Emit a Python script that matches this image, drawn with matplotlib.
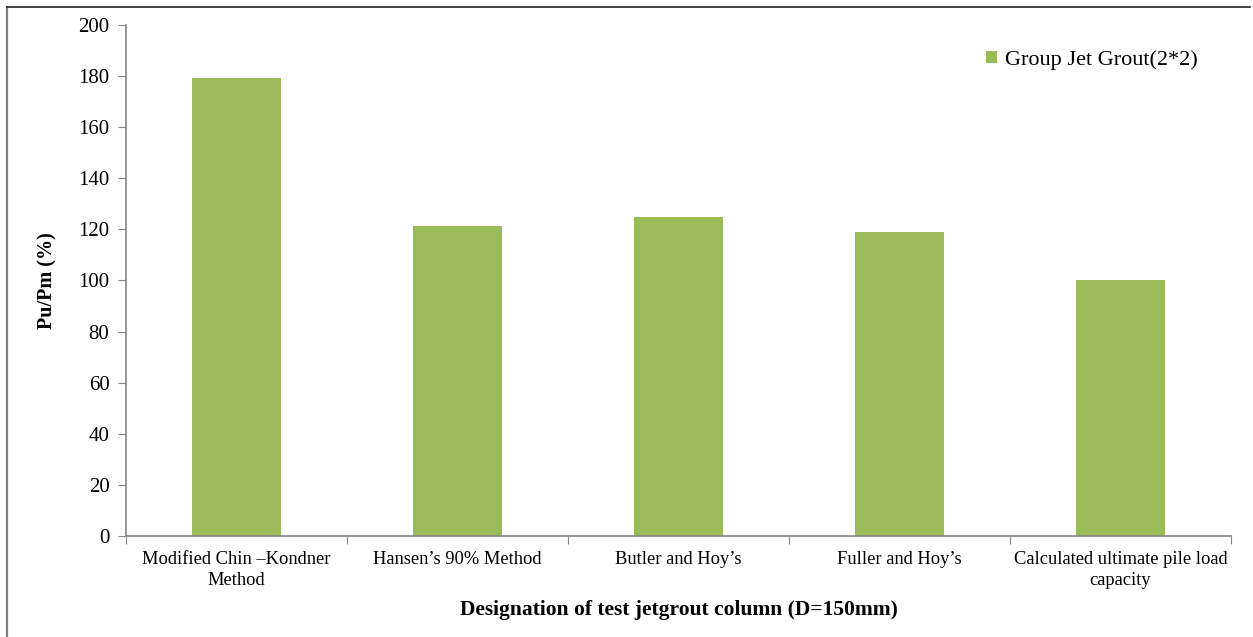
import matplotlib.pyplot as plt
from matplotlib.lines import Line2D

categories = ["Modified Chin \u2013Kondner\nMethod", "Hansen\u2019s 90% Method",
              "Butler and Hoy\u2019s", "Fuller and Hoy\u2019s",
              "Calculated ultimate pile load\ncapacity"]
values = [179.4, 121.3, 125.0, 118.8, 100.0]
series_name = "Group Jet Grout(2*2)"
yticks = [0, 20, 40, 60, 80, 100, 120, 140, 160, 180, 200]

plt.rcParams['font.family'] = ['Liberation Serif', 'DejaVu Serif']

fig = plt.figure(figsize=(12.53, 6.37), dpi=100)
ax = fig.add_axes([0.1006, 0.1586, 0.8818, 0.8022])

x = range(len(categories))
ax.bar(x, values, width=0.4, color='#9bbb59', label=series_name)

ax.set_xlim(-0.5, len(categories) - 0.5)
ax.set_ylim(0, 200)
ax.set_yticks(yticks)
ax.set_xticks([i - 0.5 for i in range(len(categories) + 1)], minor=False)
ax.set_xticklabels([])
ax.set_xticks(list(x), minor=True)
ax.set_xticklabels(categories, minor=True, fontsize=13.3, linespacing=1.3)
ax.tick_params(axis='x', which='minor', length=0, pad=11)
ax.tick_params(axis='x', which='major', length=6, color='#868686', direction='out')
ax.tick_params(axis='y', length=6, color='#868686', direction='out', labelsize=15, pad=6)

for s in ['top', 'right']:
    ax.spines[s].set_visible(False)
for s in ['left', 'bottom']:
    ax.spines[s].set_color('#868686')
    ax.spines[s].set_linewidth(1.2)

ax.set_ylabel("Pu/Pm (%)", fontsize=14.5, fontweight='bold', labelpad=15)
ax.set_xlabel("Designation of test jetgrout column (D=150mm)", fontsize=15.5,
              fontweight='bold', labelpad=8)

ax.legend(loc='upper right', bbox_to_anchor=(0.988, 0.99), frameon=False,
          fontsize=16, handlelength=0.5, handleheight=0.5, handletextpad=0.35)

# outer frame: left and top edges only
fig.add_artist(Line2D([0.0055, 0.0055], [0.0, 0.989], transform=fig.transFigure,
                      color='#808080', linewidth=1.6))
fig.add_artist(Line2D([0.0055, 0.9976], [0.989, 0.989], transform=fig.transFigure,
                      color='#202020', linewidth=1.2))

fig.savefig("out.png", dpi=100)
